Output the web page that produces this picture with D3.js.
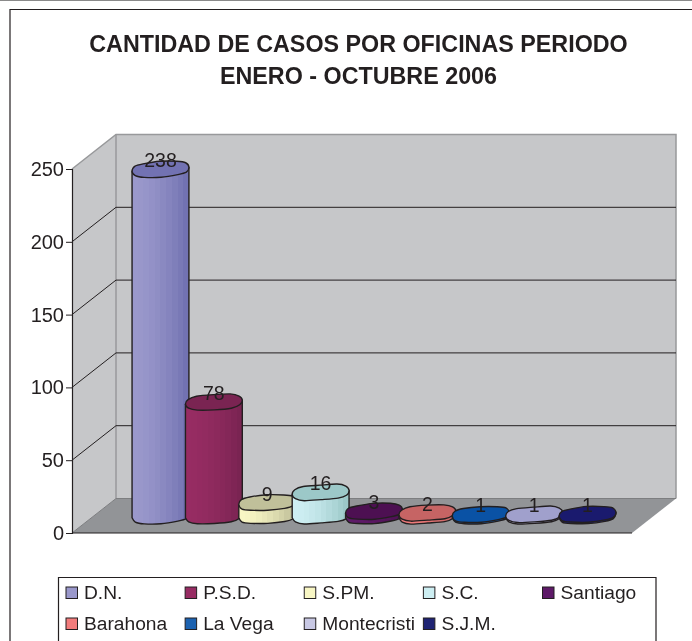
<!DOCTYPE html>
<html><head><meta charset="utf-8">
<style>html,body{margin:0;padding:0;background:#fff}svg{display:block;filter:blur(0.35px)}text{font-family:"Liberation Sans",Arial,sans-serif;fill:#231f20}</style>
<script src="https://cdn.jsdelivr.net/npm/d3@7"></script></head><body>
<script>
const categories = ["D.N.","P.S.D.","S.PM.","S.C.","Santiago","Barahona","La Vega","Montecristi","S.J.M."];
const values = [238,78,9,16,3,2,1,1,1];
const sideColors = ["#9a98cb","#972c63","#f8f6c4","#cdeef2","#5e1a68","#f27c7c","#1c62b0","#c8c8e4","#1f2373"];
const topColors = ["#7272b2","#7a2452","#c0c09a","#9cc8c8","#4d1052","#c66464","#0a52a5","#a0a0cc","#1a1a6e"];
const yTicks = [0,50,100,150,200,250];
const titleLines = ["CANTIDAD DE CASOS POR OFICINAS PERIODO","ENERO - OCTUBRE 2006"];
const lumps = [1,1.04,0.96,1.06,1.02,1,0.94,1.04,0.96,1.05];

const W=692,H=641;
const ink="#231f20";
const svg=d3.select("body").append("svg").attr("width",W).attr("height",H);
const defs=svg.append("defs");

// frame: open on the right and bottom, as in the cropped reference
svg.append("line").attr("x1",0).attr("x2",W).attr("y1",0.5).attr("y2",0.5).attr("stroke","#8a8a8a").attr("stroke-width",1);
svg.append("path").attr("d",d3.line()([[10,H],[10,9.5],[W,9.5]])).attr("fill","none").attr("stroke",ink).attr("stroke-width",1.2);

// title
svg.selectAll("text.t").data(titleLines).join("text").attr("class","t")
  .attr("x",358.5).attr("y",(d,i)=>52+i*32).attr("text-anchor","middle")
  .attr("font-size",23.3).attr("font-weight",700).text(d=>d);

// scales
const y=d3.scaleLinear().domain([0,250]).range([533,169]);
const frontX0=72,frontX1=632,depthX=44,depthY=34.5;
const x=d3.scaleBand().domain(categories).range([133.8,614.2]).paddingInner(0);
const ln=d3.line();

// walls
const g=svg.append("g");
g.append("path").attr("d",ln([[frontX0,y(0)],[frontX0,y(250)],[frontX0+depthX,y(250)-depthY],[frontX0+depthX,y(0)-depthY]])+"Z").attr("fill","#c6c7c9");
g.append("path").attr("d",ln([[frontX0+depthX,y(250)-depthY],[frontX1+depthX,y(250)-depthY],[frontX1+depthX,y(0)-depthY],[frontX0+depthX,y(0)-depthY]])+"Z").attr("fill","#c6c7c9");
g.append("path").attr("d",ln([[frontX0,y(0)],[frontX0+depthX,y(0)-depthY],[frontX1+depthX,y(0)-depthY],[frontX1,y(0)]])+"Z").attr("fill","#929497");
g.append("path").attr("d",ln([[frontX0,y(250)],[frontX0+depthX,y(250)-depthY],[frontX1+depthX,y(250)-depthY],[frontX1+depthX,y(0)-depthY]])).attr("fill","none").attr("stroke","#98999b").attr("stroke-width",1.5);
g.append("path").attr("d",ln([[frontX0+depthX,y(250)-depthY],[frontX0+depthX,y(0)-depthY]])).attr("fill","none").attr("stroke","#98999b").attr("stroke-width",1.5);
g.append("path").attr("d",ln([[frontX0,y(0)],[frontX0+depthX,y(0)-depthY],[frontX1+depthX,y(0)-depthY]])).attr("fill","none").attr("stroke","#7d7e80").attr("stroke-width",1);
yTicks.filter(t=>t>0&&t<250).forEach(t=>{
  g.append("path").attr("d",ln([[frontX0,y(t)],[frontX0+depthX,y(t)-depthY],[frontX1+depthX,y(t)-depthY]])).attr("fill","none").attr("stroke",ink).attr("stroke-width",1);
});
// axes
const yAxis=d3.axisLeft(y).tickValues(yTicks).tickSize(6).tickPadding(2);
const ax=svg.append("g").attr("transform",`translate(${frontX0},0)`).call(yAxis);
ax.selectAll("path.domain").attr("stroke",ink).attr("stroke-width",1.2);
ax.selectAll("line").attr("stroke",ink).attr("stroke-width",1);
ax.selectAll("text").attr("font-size",20).attr("font-family",'"Liberation Sans",Arial,sans-serif').attr("fill",ink);
svg.append("line").attr("x1",frontX0).attr("x2",frontX1).attr("y1",y(0)).attr("y2",y(0)).attr("stroke",ink).attr("stroke-width",1.2);

// cylinders
const tilt=-4*Math.PI/180;
const rx=28.5,ry=7.6;
const curve=d3.line().curve(d3.curveCardinalClosed.tension(0.2));
const open=d3.line().curve(d3.curveCardinal.tension(0.2));
const sp=t=>Math.sign(t)*Math.pow(Math.abs(t),0.75);
function ell(cx,cy,a,s){s=s||1;const ex=rx*sp(Math.cos(a)),ey=ry*s*sp(Math.sin(a));
  return [cx+ex*Math.cos(tilt)-ey*Math.sin(tilt),cy+ex*Math.sin(tilt)+ey*Math.cos(tilt)];}
const facet=k=>k*30*Math.PI/180;
categories.forEach((c,i)=>{
  const gr=defs.append("linearGradient").attr("id","g"+i).attr("x1",0).attr("x2",1).attr("y1",0).attr("y2",0);
  const n=10;
  d3.range(n).forEach(k=>{
    const cc=d3.interpolateRgb(sideColors[i],topColors[i])(Math.pow(k/(n-1),1.6));
    gr.append("stop").attr("offset",k/n).attr("stop-color",cc);
    gr.append("stop").attr("offset",(k+1)/n).attr("stop-color",cc);
  });
});
const bars=svg.append("g");
categories.forEach((c,i)=>{
  const v=values[i];
  const cx=x(c)+x.bandwidth()/2;
  const by=y(0)-depthY/2, ty=y(v)-depthY/2;
  const low=d3.range(0,7).map(k=>ell(cx,by,facet(k),lumps[(k+i)%10]));
  const cg=bars.append("g");
  const rimR=ell(cx,ty,0), rimL=ell(cx,ty,Math.PI);
  const d=ln([rimR])+open(low).replace(/^M/,"L")+ln([rimL]).replace(/^M/,"L")+"Z";
  cg.append("path").attr("d",d).attr("fill",`url(#g${i})`).attr("stroke",ink).attr("stroke-width",1.4).attr("stroke-linejoin","round");
  cg.append("path").attr("d",curve(d3.range(12).map(k=>ell(cx,ty,facet(k),lumps[(k+i)%10])))).attr("fill",topColors[i]).attr("stroke",ink).attr("stroke-width",1.4);
  svg.append("text").attr("x",cx).attr("y",ty-2).attr("text-anchor","middle").attr("font-size",19.5).attr("data-v",v).text(v);
});
svg.selectAll("text[data-v]").raise();

// legend
const lg=svg.append("g");
lg.append("path").attr("d",ln([[58.5,H],[58.5,577.5],[656,577.5],[656,H]])).attr("fill","#fff").attr("stroke",ink).attr("stroke-width",1.2);
const legX=d3.scalePoint().domain(d3.range(5)).range([66,542.5]);
categories.forEach((c,i)=>{
  const col=i%5,row=Math.floor(i/5);
  const it=lg.append("g").attr("transform",`translate(${legX(col)},${587+row*31})`);
  it.append("rect").attr("width",11.5).attr("height",11.5).attr("fill",sideColors[i]).attr("stroke",ink).attr("stroke-width",1);
  it.append("text").attr("x",18).attr("y",12).attr("font-size",19.2).text(c);
});
</script></body></html>
